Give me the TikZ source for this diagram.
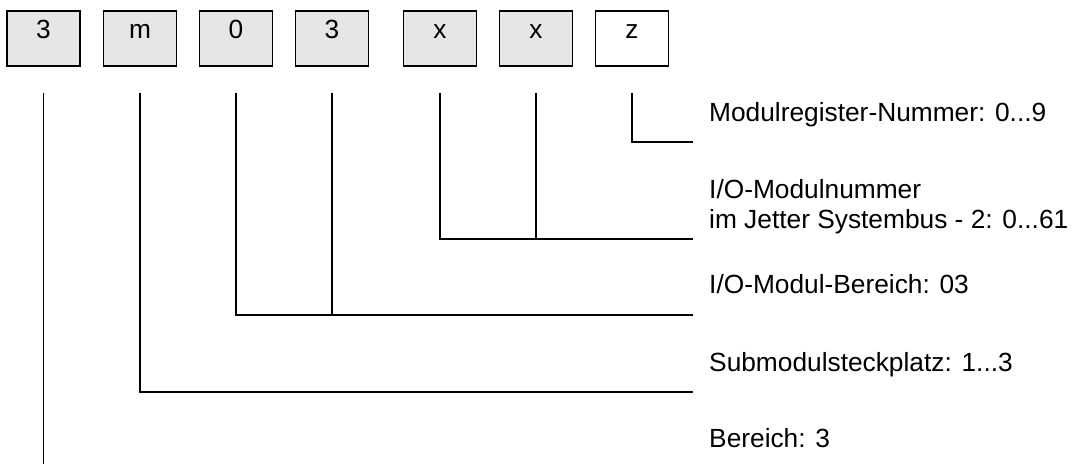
\documentclass[tikz,border=0pt]{standalone}
\usepackage{fontspec}
\setmainfont{Liberation Sans}
\begin{document}
\begin{tikzpicture}[x=1pt,y=-1pt,
  digit/.style={draw=black,line width=1.6pt,fill=boxgray,minimum width=73pt,minimum height=55pt,inner sep=0pt,text height=20pt,text depth=20pt,font=\fontsize{26.3}{30}\selectfont},
  digitwhite/.style={digit,fill=white},
  lbl/.style={anchor=base west,inner sep=0pt,align=left,font=\fontsize{26.3}{30}\selectfont},
  conn/.style={draw=black,line width=1.6pt,line cap=rect}]
\definecolor{boxgray}{HTML}{E6E6E6}
\useasboundingbox (0,0) rectangle (1079,467);
% boxes
\node[digit] (b1) at (43.5,38.5) {3};
\node[digit] (b2) at (140,38.5) {m};
\node[digit] (b3) at (236,38.5) {0};
\node[digit] (b4) at (332,38.5) {3};
\node[digit] (b5) at (440,38.5) {x};
\node[digit] (b6) at (536,38.5) {x};
\node[digitwhite] (b7) at (632,38.5) {z};
% connector start points
\coordinate (t1) at (43.5,94);
\coordinate (t2) at (140,94);
\coordinate (t3) at (236,94);
\coordinate (t4) at (332,94);
\coordinate (t5) at (440,94);
\coordinate (t6) at (536,94);
\coordinate (t7) at (632,94);
% connector end points
\coordinate (e1) at (692,142);
\coordinate (e2) at (692,239);
\coordinate (e3) at (692,315);
\coordinate (e4) at (692,392);
\coordinate (e5) at (43.5,463);
% labels
\node[lbl] (l1) at (709,121) {Modulregister-Nummer: 0...9};
\node[lbl] (l2) at (709,228) {I/O-Modulnummer\\im Jetter Systembus - 2: 0...61};
\node[lbl] (l3) at (709,293) {I/O-Modul-Bereich: 03};
\node[lbl] (l4) at (709,371) {Submodulsteckplatz: 1...3};
\node[lbl] (l5) at (709,447) {Bereich: 3};
% connectors
\draw[conn] (t7) |- (e1);
\draw[conn] (t5) |- (e2);
\draw[conn] (t6) -- (t6 |- e2);
\draw[conn] (t3) |- (e3);
\draw[conn] (t4) -- (t4 |- e3);
\draw[conn] (t2) |- (e4);
\draw[conn] (t1) -- (e5);
\end{tikzpicture}
\end{document}
